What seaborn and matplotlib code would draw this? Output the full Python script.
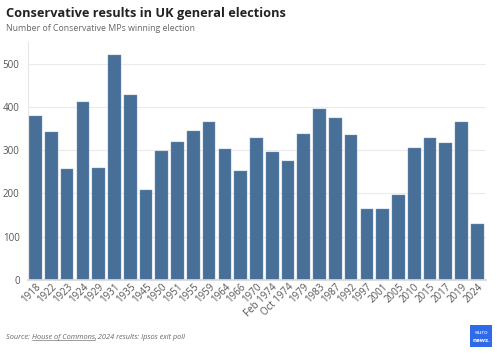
import matplotlib.pyplot as plt
import seaborn as sns
from matplotlib.patches import Rectangle
from matplotlib.lines import Line2D

# Conservative MPs elected per general election
elections = ['1918', '1922', '1923', '1924', '1929', '1931', '1935', '1945', '1950',
             '1951', '1955', '1959', '1964', '1966', '1970', 'Feb 1974', 'Oct 1974',
             '1979', '1983', '1987', '1992', '1997', '2001', '2005', '2010', '2015',
             '2017', '2019', '2024']
seats = [380, 342, 257, 411, 259, 520, 428, 208, 297, 320, 344, 364, 303, 252,
         329, 296, 276, 338, 396, 375, 335, 165, 165, 197, 305, 329, 316, 364, 130]
y_ticks = [0, 100, 200, 300, 400, 500]

sns.set_theme(style='white')
plt.rcParams['font.family'] = ['Open Sans', 'DejaVu Sans']

fig = plt.figure(figsize=(5, 3.55), dpi=100)
ax = fig.add_axes([0.056, 0.211, 0.916, 0.671])

sns.barplot(x=elections, y=seats, color='#476f98', saturation=1, width=0.8,
            edgecolor='#7c98b5', linewidth=0.3, ax=ax)

ax.set_ylim(0, 550)
ax.set_xlim(-0.48, 28.55)
ax.set_yticks(y_ticks)
ax.yaxis.grid(True, color='#ebebeb', linewidth=0.8)
ax.set_axisbelow(True)
for side in ['top', 'right']:
    ax.spines[side].set_visible(False)
ax.spines['left'].set_color('#e6e6e6')
ax.spines['bottom'].set_color('#d8d8d8')
ax.spines['left'].set_linewidth(0.8)
ax.tick_params(axis='y', labelsize=7, colors='#555555', length=0, pad=6)
ax.tick_params(axis='x', labelsize=7, colors='#555555', length=0, pad=1)
plt.setp(ax.get_xticklabels(), rotation=45, ha='right', rotation_mode='anchor')

fig.text(0.012, 0.962, 'Conservative results in UK general elections', fontsize=9.2,
         fontweight='bold', color='#222222', va='center')
fig.text(0.012, 0.92, 'Number of Conservative MPs winning election', fontsize=6.3,
         color='#666666', va='center')

# source line, pieces placed one after the other
renderer = fig.canvas.get_renderer()
x = 6
pieces = [('Source: ', False), ('House of Commons', True), (', 2024 results: Ipsos exit poll', False)]
for txt, underline in pieces:
    t = fig.text(x / 500, 0.05, txt, fontsize=5.3, style='italic', color='#666666',
                 va='center', transform=fig.transFigure)
    bb = t.get_window_extent(renderer)
    if underline:
        fig.lines.append(Line2D([bb.x0 / 500, bb.x1 / 500], [bb.y0 / 355 + 0.002] * 2,
                                transform=fig.transFigure, color='#777777', linewidth=0.5))
    x = bb.x1

# euronews badge
fig.patches.append(Rectangle((0.94, 0.022), 0.044, 0.062, transform=fig.transFigure,
                             facecolor='#2f6be8', edgecolor='none'))
fig.text(0.962, 0.062, 'euro', fontsize=4.5, color='white', ha='center', va='center')
fig.text(0.962, 0.042, 'news.', fontsize=4.5, color='white', ha='center', va='center',
         fontweight='bold')

fig.savefig('out.png', dpi=100, facecolor='white')
